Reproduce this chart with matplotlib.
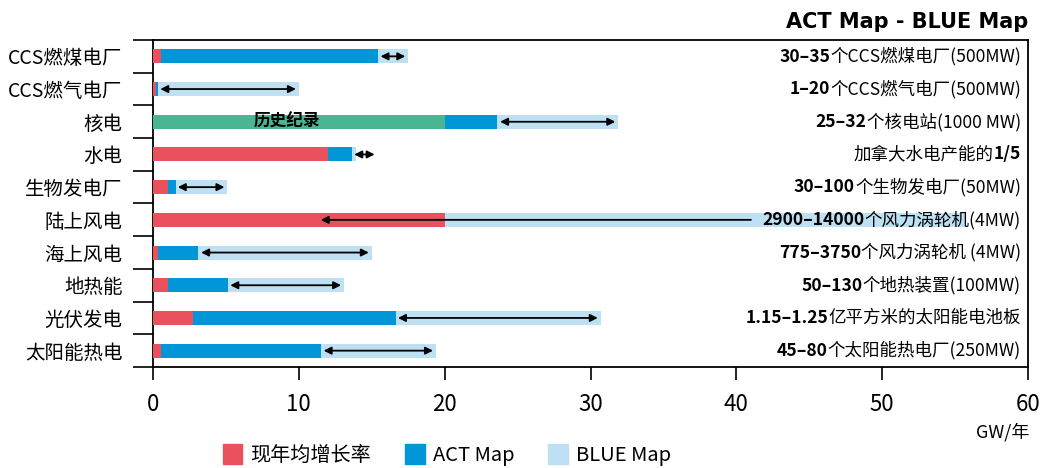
import matplotlib
matplotlib.use('Agg')
import matplotlib.pyplot as plt
from matplotlib.patches import Patch
from matplotlib.transforms import blended_transform_factory

plt.rcParams['font.family'] = ['Noto Sans CJK SC', 'DejaVu Sans']

categories = ['CCS燃煤电厂', 'CCS燃气电厂', '核电', '水电', '生物发电厂',
              '陆上风电', '海上风电', '地热能', '光伏发电', '太阳能热电']
current = [0.55, 0.18, 0, 12.0, 1.03, 20.0, 0.32, 1.03, 2.77, 0.57]
history = [0, 0, 20.0, 0, 0, 0, 0, 0, 0, 0]
act = [15.4, 0.35, 23.6, 13.65, 1.58, 20.0, 3.09, 5.14, 16.66, 11.52]
blue = [17.5, 10.0, 31.9, 13.9, 5.07, 55.7, 15.0, 13.1, 30.7, 19.4]
arrow_lo = [15.6, 0.5, 23.8, 13.8, 1.7, 11.5, 3.3, 5.3, 16.8, 11.7]
arrow_hi = [17.3, 9.8, 31.7, 15.2, 4.9, 41.0, 14.8, 12.9, 30.5, 19.2]
double_head = [True, True, True, True, True, False, True, True, True, True]

bold_part = ['30–35', '1–20', '25–32', '1/5', '30–100', '2900–14000',
             '775–3750', '50–130', '1.15–1.25', '45–80']
plain_part = ['个CCS燃煤电厂(500MW)', '个CCS燃气电厂(500MW)', '个核电站(1000 MW)',
              '加拿大水电产能的', '个生物发电厂(50MW)', '个风力涡轮机(4MW)',
              '个风力涡轮机 (4MW)', '个地热装置(100MW)', '亿平方米的太阳能电池板',
              '个太阳能热电厂(250MW)']
bold_first = [True, True, True, False, True, True, True, True, True, True]

c_red = '#E8515D'
c_blue = '#0096D8'
c_light = '#BDE0F3'
c_green = '#4AB592'

fig = plt.figure(figsize=(10.42, 4.68), dpi=100)
ax = fig.add_axes([153/1042, 1-367/468, 875/1042, 327/468])

y = list(range(len(categories)))
h = 0.43
ax.barh(y, blue, height=h, color=c_light, zorder=2)
ax.barh(y, act, height=h, color=c_blue, zorder=3)
ax.barh(y, history, height=h, color=c_green, zorder=4)
ax.barh(y, current, height=h, color=c_red, zorder=5)

for i in y:
    style = '<|-|>' if double_head[i] else '-|>'
    ax.annotate('', xy=(arrow_lo[i], i), xytext=(arrow_hi[i], i),
                arrowprops=dict(arrowstyle=style, color='black', lw=1.3,
                                mutation_scale=11, shrinkA=0, shrinkB=0),
                zorder=6)

ax.text(9.2, 2, '历史纪录', ha='center', va='center', fontsize=12,
        fontweight='bold', zorder=7)

tr = blended_transform_factory(ax.transAxes, ax.transData)
fs = 12.6
for i in y:
    if bold_first[i]:
        t = ax.text(0.992, i, plain_part[i], transform=tr, ha='right',
                    va='center', fontsize=fs, zorder=7)
        ax.annotate(bold_part[i], xy=(0, 0), xycoords=t, ha='right',
                    va='bottom', fontsize=fs, fontweight='bold', zorder=7)
    else:
        t = ax.text(0.992, i, bold_part[i], transform=tr, ha='right',
                    va='center', fontsize=fs, fontweight='bold', zorder=7)
        ax.annotate(plain_part[i], xy=(0, 0), xycoords=t, ha='right',
                    va='bottom', fontsize=fs, zorder=7)

ax.set_xlim(0, 60)
ax.set_ylim(len(categories) - 0.5, -0.5)
ax.set_xticks([0, 10, 20, 30, 40, 50, 60])
ax.tick_params(axis='x', direction='out', length=9.5, width=1.2,
               labelsize=16, pad=9)
ax.set_yticks(y)
ax.set_yticklabels(categories, fontsize=14)
ax.tick_params(axis='y', which='major', length=0, pad=22)
ax.set_yticks([v - 0.5 for v in range(len(categories) + 1)], minor=True)
ax.tick_params(axis='y', which='minor', direction='out', length=14.5, width=1.2)
for s in ax.spines.values():
    s.set_linewidth(1.3)

fig.text(1028/1042, 1-22/468, 'ACT Map - BLUE Map', ha='right', va='center',
         fontsize=15, fontweight='bold', family=['DejaVu Sans'])
fig.text(1029/1042, 1-432/468, 'GW/年', ha='right', va='center', fontsize=13)

handles = [Patch(color=c_red, label='现年均增长率'),
           Patch(color=c_blue, label='ACT Map'),
           Patch(color=c_light, label='BLUE Map')]
fig.legend(handles=handles, loc='center', bbox_to_anchor=(447/1042, 1-455/468),
           ncol=3, frameon=False, fontsize=14.5, handlelength=0.95,
           handleheight=1.1, handletextpad=0.4, columnspacing=1.7,
           borderpad=0.1)

fig.savefig('out.png', dpi=100)
